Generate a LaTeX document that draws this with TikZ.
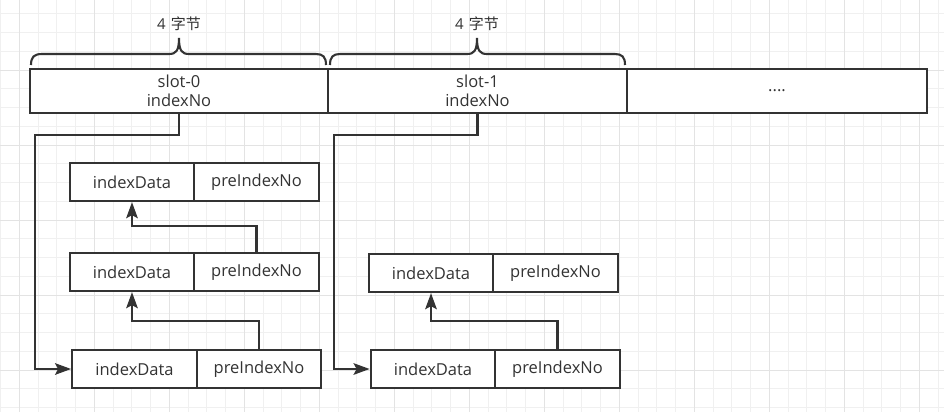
\documentclass[tikz,border=0pt]{standalone}
\usepackage{fontspec}
\setmainfont{Open Sans}
\newfontfamily\cjk{Noto Sans CJK SC}
\usetikzlibrary{arrows.meta}
\definecolor{ink}{HTML}{333333}
\definecolor{gridminor}{HTML}{F0F0F0}
\definecolor{gridmajor}{HTML}{E3E3E3}

\begin{document}
\begin{tikzpicture}[x=1pt,y=-1pt,
  box/.style={draw=ink, line width=2.3pt, fill=white, minimum height=44pt, inner sep=0pt, text=ink, font=\fontsize{16.5}{19}\selectfont, align=center},
  cell/.style={draw=ink, line width=2.3pt, fill=white, minimum height=38pt, minimum width=124.5pt, inner sep=0pt, text=ink, font=\fontsize{16.5}{19}\selectfont},
  link/.style={draw=ink, line width=2.3pt, -{Stealth[length=16pt,width=11.5pt,inset=3pt]}},
  bracestyle/.style={draw=ink, line width=2.1pt},
  lbl/.style={text=ink, font=\fontsize{15}{18}\selectfont, inner sep=0pt}]

\useasboundingbox (0,0) rectangle (944,412);
\fill[white] (0,0) rectangle (944,412);

% grid
\foreach \k in {0,...,50} {\draw[gridminor, line width=1pt] ({0.55+\k*18.75},0) -- ++(0,412);}
\foreach \k in {0,...,21} {\draw[gridminor, line width=1pt] (0,{13.75+\k*18.75}) -- ++(944,0);}
\foreach \k in {1,5,...,49} {\draw[gridmajor, line width=1pt] ({0.55+\k*18.75},0) -- ++(0,412);}
\foreach \k in {3,7,...,19} {\draw[gridmajor, line width=1pt] (0,{13.75+\k*18.75}) -- ++(944,0);}

% braces
\draw[bracestyle] (31,65) .. controls (31,57) and (34,54) .. (42,54) -- (169,54)
  .. controls (176,54) and (179,51) .. (179,38) .. controls (179,51) and (182,54) .. (189,54)
  -- (316,54) .. controls (323,54) and (326,57) .. (326,65);
\draw[bracestyle] (330,65) .. controls (330,57) and (333,54) .. (340,54) -- (467,54)
  .. controls (474,54) and (477,51) .. (477,38) .. controls (477,51) and (480,54) .. (487,54)
  -- (615,54) .. controls (622,54) and (625,57) .. (625,65);
\node[lbl] (b0) at (179,24) {4\hspace{5pt}{\cjk 字节}};
\node[lbl] (b1) at (477,24) {4\hspace{5pt}{\cjk 字节}};

% slots
\node[box, minimum width=298pt] (slot0) at (179,91) {slot-0\\indexNo};
\node[box, minimum width=299pt] (slot1) at (477.5,91) {slot-1\\indexNo};
\node[box, minimum width=300pt] (slotn) at (777,91) {....};

% left column
\node[cell] (a1d) at (132,182) {indexData};
\node[cell] (a1p) at (256.5,182) {preIndexNo};
\node[cell] (a2d) at (132,272) {indexData};
\node[cell] (a2p) at (256.5,272) {preIndexNo};
\node[cell] (a3d) at (134.5,369) {indexData};
\node[cell] (a3p) at (259,369) {preIndexNo};

% right column
\node[cell] (b1d) at (431,273) {indexData};
\node[cell] (b1p) at (555.5,273) {preIndexNo};
\node[cell] (b2d) at (433,369) {indexData};
\node[cell] (b2p) at (557.5,369) {preIndexNo};

% connectors
\coordinate (c0) at (35,135);
\coordinate (c1) at (334,135);
\draw[link] (slot0.south) |- (c0) |- (a3d.west);
\draw[link] (slot1.south) |- (c1) |- (b2d.west);
\draw[link] (a2p.north) -- ++(0,-26) -| (a1d.south);
\draw[link] (a3p.north) -- ++(0,-28) -| (a2d.south);
\draw[link] (b2p.north) -- ++(0,-28) -| (b1d.south);
\end{tikzpicture}
\end{document}
